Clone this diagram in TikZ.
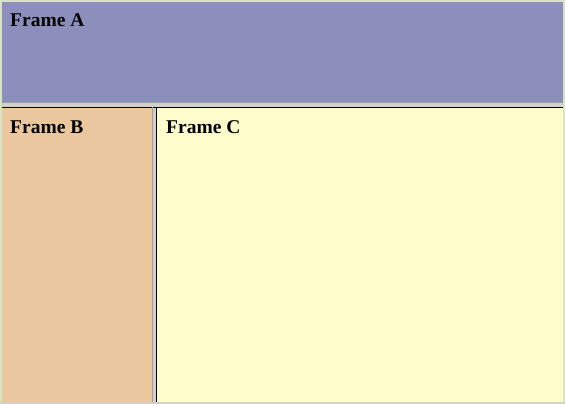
\documentclass[tikz,border=0pt]{standalone}
\usepackage{fontspec}
\setmainfont{Liberation Serif}
\usetikzlibrary{positioning}

\definecolor{outerbg}{HTML}{D8E2C4}
\definecolor{frameA}{HTML}{8C8FBC}
\definecolor{frameB}{HTML}{EAC79E}
\definecolor{frameC}{HTML}{FFFDCC}
\definecolor{splitgray}{HTML}{D4D0C8}
\definecolor{splitdark}{HTML}{A0A0A0}

\begin{document}
\begin{tikzpicture}[x=1pt, y=-1pt,
frame_box/.style={rectangle, draw=none, inner sep=0pt, outer sep=0pt, anchor=north west},
frame_label/.style={anchor=base west, inner sep=0pt, font=\fontsize{19.5}{22}\selectfont\bfseries},
split_line/.style={line width=1pt}
]

\fill[outerbg] (0,0) rectangle (565,404);
\useasboundingbox (0,0) rectangle (565,404);

% frames
\node[frame_box, fill=frameA, minimum width=561pt, minimum height=100pt](frame_a) at (2,2) {};
\node[frame_box, fill=splitgray, minimum width=561pt, minimum height=5pt](split_h) at (2,102) {};
\node[frame_box, fill=frameB, minimum width=150pt, minimum height=295pt](frame_b) at (2,107) {};
\node[frame_box, fill=splitgray, minimum width=5pt, minimum height=295pt](split_v) at (152,107) {};
\node[frame_box, fill=frameC, minimum width=406pt, minimum height=295pt](frame_c) at (157,107) {};

% splitter edges
\draw[split_line, splitdark](split_h.north west) -- (split_h.north east);
\draw[split_line, black](split_h.south west) -- (split_h.south east);
\draw[split_line, splitdark]([xshift=0.5pt]split_v.north west) -- ([xshift=0.5pt]split_v.south west);
\draw[split_line, black]([xshift=-0.5pt]split_v.north east) -- ([xshift=-0.5pt]split_v.south east);
\draw[line width=2pt, splitgray](0,403) -- (565,403);

% labels
\node[frame_label](label_a) at (10,27) {Frame A};
\node[frame_label](label_b) at (10,133) {Frame B};
\node[frame_label](label_c) at (166,133) {Frame C};

\end{tikzpicture}
\end{document}
